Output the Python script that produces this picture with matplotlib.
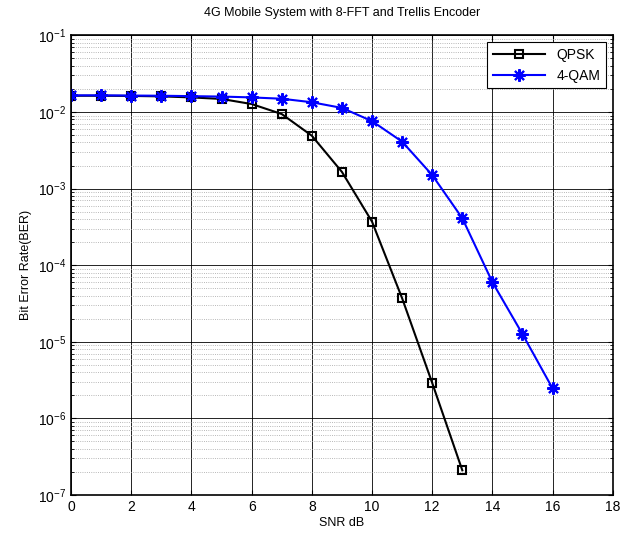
import matplotlib
matplotlib.use("Agg")
import matplotlib.pyplot as plt
from matplotlib.ticker import LogLocator, NullFormatter

plt.rcParams['font.family'] = ['Liberation Sans', 'DejaVu Sans']
plt.rcParams['mathtext.fontset'] = 'custom'
plt.rcParams['mathtext.rm'] = 'Liberation Sans'

# data
snr_qpsk = [0, 1, 2, 3, 4, 5, 6, 7, 8, 9, 10, 11, 12, 13]
ber_qpsk = [0.0163, 0.0163, 0.0162, 0.0160, 0.0155, 0.0148, 0.0127, 0.0094,
            0.0049, 1.65e-3, 3.7e-4, 3.7e-5, 2.9e-6, 2.1e-7]
snr_qam = [0, 1, 2, 3, 4, 5, 6, 7, 8, 9, 10, 11, 12, 13, 14, 15, 16]
ber_qam = [0.0165, 0.0165, 0.0164, 0.0163, 0.0161, 0.0159, 0.0155, 0.0149,
           0.0134, 0.0113, 0.0076, 0.0041, 1.5e-3, 4.1e-4, 6.0e-5, 1.26e-5, 2.46e-6]
y_ticks = [1e-7, 1e-6, 1e-5, 1e-4, 1e-3, 1e-2, 1e-1]

fig = plt.figure(figsize=(6.35, 5.42), dpi=100)
ax = fig.add_axes([0.112, 0.0867, 0.853, 0.848])

ax.semilogy(snr_qpsk, ber_qpsk, 'k-s', lw=1.5, ms=6, mfc='none', mew=1.5, label='QPSK')
# MATLAB style asterisk marker
ax.semilogy(snr_qam, ber_qam, '-', marker=(8, 2, 0), color='#0000ff', lw=1.5, ms=9,
            mew=1.5, label='4-QAM')

ax.set_xlim(0, 18)
ax.set_ylim(1e-7, 1e-1)
ax.set_xticks(range(0, 19, 2))
ax.set_yticks(y_ticks)
ax.yaxis.set_minor_locator(LogLocator(base=10, subs=range(2, 10), numticks=20))
ax.yaxis.set_minor_formatter(NullFormatter())

ax.grid(True, which='major', color='black', lw=0.6, ls='-')
ax.grid(True, which='minor', axis='y', color='#a0a0a0', lw=0.6, ls=':')
ax.tick_params(which='both', direction='in', top=True, right=True, labelsize=10)
ax.tick_params(which='minor', length=2)
for s in ax.spines.values():
    s.set_linewidth(1.2)

ax.set_title('4G Mobile System with 8-FFT and Trellis Encoder', fontsize=9, pad=14)
ax.set_xlabel('SNR dB', fontsize=9, labelpad=2)
ax.set_ylabel('Bit Error Rate(BER)', fontsize=9)
leg = ax.legend(loc='upper right', fontsize=10, fancybox=False, edgecolor='black',
                framealpha=1, borderaxespad=0.5, handlelength=3.8)
leg.get_frame().set_linewidth(0.8)

fig.savefig('out.png', dpi=100)
